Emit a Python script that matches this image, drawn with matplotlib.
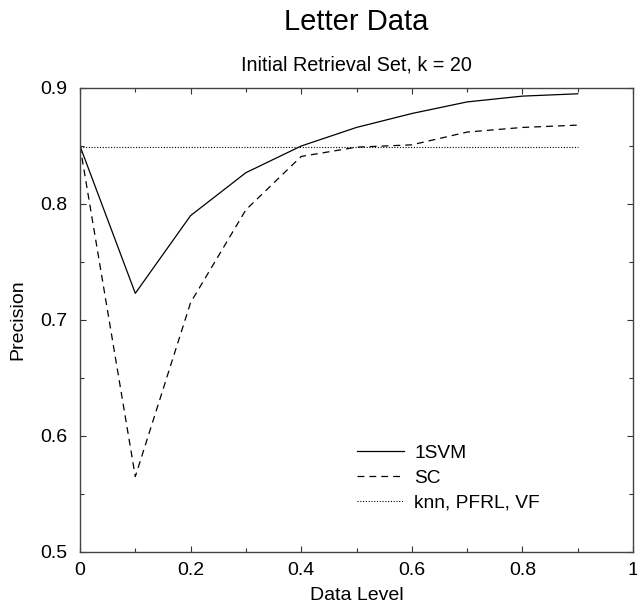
import numpy as np
import matplotlib
matplotlib.use('Agg')
import matplotlib.pyplot as plt
from matplotlib.ticker import MultipleLocator

# values
data_level = [0.0, 0.1, 0.2, 0.3, 0.4, 0.5, 0.6, 0.7, 0.8, 0.9]
svm_prec = [0.850, 0.723, 0.790, 0.827, 0.850, 0.866, 0.878, 0.888, 0.893, 0.895]
sc_prec = [0.850, 0.565, 0.715, 0.795, 0.841, 0.849, 0.851, 0.862, 0.866, 0.868]
knn_prec = [0.849] * len(data_level)

x_ticks = [0, 0.2, 0.4, 0.6, 0.8, 1.0]
x_tick_labels = ['0', '0.2', '0.4', '0.6', '0.8', '1']
y_ticks = [0.5, 0.6, 0.7, 0.8, 0.9]
y_tick_labels = ['0.5', '0.6', '0.7', '0.8', '0.9']

plt.rcParams['font.family'] = ['Liberation Sans', 'DejaVu Sans']

W, H = 637, 604
fig = plt.figure(figsize=(W / 100, H / 100), dpi=100)
# axes box in pixels: left 80, right 633, top 88, bottom 552
ax = fig.add_axes([80 / W, 1 - 552 / H, (633 - 80) / W, (552 - 88) / H])

ax.plot(data_level, svm_prec, color='black', linewidth=0.9, label='1SVM')
ax.plot(data_level, sc_prec, color='black', linewidth=0.9, linestyle=(0, (5.5, 4)), label='SC')
ax.plot(data_level, knn_prec, color='black', linewidth=0.8, linestyle=(0, (1, 1.5)), label='knn, PFRL, VF')

ax.set_xlim(0, 1)
ax.set_ylim(0.5, 0.9)
ax.set_xticks(x_ticks)
ax.set_xticklabels(x_tick_labels)
ax.set_yticks(y_ticks)
ax.set_yticklabels(y_tick_labels)
ax.xaxis.set_minor_locator(MultipleLocator(0.1))
ax.yaxis.set_minor_locator(MultipleLocator(0.05))
ax.tick_params(which='both', direction='in', top=True, right=True, labelsize=14,
               color='#333333')
ax.tick_params(which='major', length=4.5, width=0.8)
ax.tick_params(which='minor', length=3, width=0.8)
ax.tick_params(axis='x', pad=7)
ax.tick_params(axis='y', pad=9)
for s in ax.spines.values():
    s.set_linewidth(1.0)
    s.set_color('#444444')

ax.set_xlabel('Data Level', fontsize=14, va='center')
ax.xaxis.set_label_coords(0.5, -(596 - 552) / (552 - 88))
ax.set_ylabel('Precision', fontsize=14, va='center')
ax.yaxis.set_label_coords(-(80 - 18) / (633 - 80), 0.5)

mid_x = (80 + 633) / 2 / W
fig.text(mid_x, 1 - 22 / H, 'Letter Data', ha='center', va='center', fontsize=21)
fig.text(mid_x, 1 - 65 / H, 'Initial Retrieval Set, k = 20', ha='center', va='center', fontsize=14.2)

ax.legend(loc='center left', bbox_to_anchor=(357 / W, 1 - 478 / H),
          bbox_transform=fig.transFigure, frameon=False, borderpad=0,
          borderaxespad=0, fontsize=13.8, handlelength=2.43,
          handletextpad=0.57, labelspacing=0.38)

fig.savefig('out.png', dpi=100)
